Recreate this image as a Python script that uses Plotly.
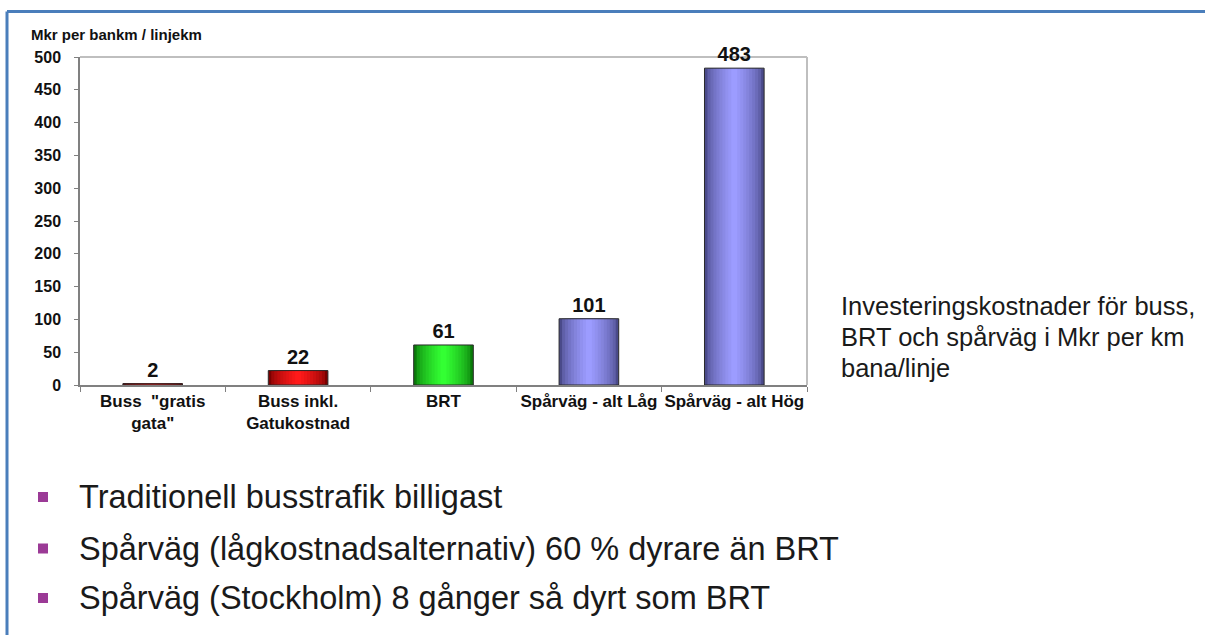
import plotly.graph_objects as go

# ---- data ----
categories = ['Buss  "gratis<br>gata"', 'Buss inkl.<br>Gatukostnad', 'BRT',
              'Spårväg - alt Låg', 'Spårväg - alt Hög']
values = [2, 22, 61, 101, 483]
edge_colors = ['#7a0000', '#7a0000', '#0a7a0a', '#4a4a8a', '#4a4a8a']
center_colors = ['#ff1a1a', '#ff1a1a', '#33ff33', '#9c9cff', '#9c9cff']
y_title = "Mkr per bankm / linjekm"
side_lines = ["Investeringskostnader för buss,", "BRT och spårväg i Mkr per km", "bana/linje"]
bullets = ["Traditionell busstrafik billigast",
           "Spårväg (lågkostnadsalternativ) 60 % dyrare än BRT",
           "Spårväg (Stockholm) 8 gånger så dyrt som BRT"]

W, H = 1205, 635
L, R, T, B = 80, 807, 57, 385
FONT = "Liberation Sans, Arial, sans-serif"


def px(x):
    return (x - L) / (R - L)


def py(y):
    return (B - y) / (B - T)


def hex2rgb(h):
    h = h.lstrip('#')
    return tuple(int(h[i:i + 2], 16) for i in (0, 2, 4))


def mix(c1, c2, t):
    a, b = hex2rgb(c1), hex2rgb(c2)
    return 'rgb(%d,%d,%d)' % tuple(round(a[k] + (b[k] - a[k]) * t) for k in range(3))


fig = go.Figure()
N = 10
w0 = 0.41
for i in range(N):
    t = (i / (N - 1)) ** 0.6
    fig.add_trace(go.Bar(
        x=categories, y=values,
        width=[w0 * (1 - i / N)] * len(values),
        marker=dict(color=[mix(e, c, t) for e, c in zip(edge_colors, center_colors)],
                    line=dict(width=0)),
        hoverinfo='skip', showlegend=False))

fig.add_trace(go.Bar(
    x=categories, y=values, width=[w0] * len(values),
    marker=dict(color='rgba(0,0,0,0)', line=dict(color='#2a2a2a', width=1)),
    text=[str(v) for v in values], textposition='outside',
    textfont=dict(family=FONT, size=20, color='#111111'),
    texttemplate='<b>%{text}</b>', cliponaxis=False, showlegend=False))

shapes = []
# plot-area border (top/right)
shapes.append(dict(type='line', xref='paper', yref='paper', x0=0, x1=1, y0=1, y1=1,
                   line=dict(color='#bfbfbf', width=2), layer='below'))
shapes.append(dict(type='line', xref='paper', yref='paper', x0=1, x1=1, y0=0, y1=1,
                   line=dict(color='#bfbfbf', width=2), layer='below'))
# blue frame
shapes.append(dict(type='line', xref='paper', yref='paper', x0=px(7), x1=px(W + 5),
                   y0=py(11.5), y1=py(11.5), line=dict(color='#4a7ebb', width=3)))
shapes.append(dict(type='line', xref='paper', yref='paper', x0=px(7), x1=px(7),
                   y0=py(11.5), y1=py(H + 5), line=dict(color='#4a7ebb', width=3)))
# bullet squares
bullet_y = [497, 548.5, 598]
for yy in bullet_y:
    shapes.append(dict(type='rect', xref='paper', yref='paper', x0=px(38), x1=px(48),
                       y0=py(yy - 5), y1=py(yy + 5), fillcolor='#9b3a96',
                       line=dict(width=0)))

annotations = []
annotations.append(dict(text='<b>' + y_title + '</b>', xref='paper', yref='paper',
                        x=px(29), y=py(34), xanchor='left', yanchor='middle',
                        showarrow=False, font=dict(family=FONT, size=15, color='#111111')))
for k, line in enumerate(side_lines):
    annotations.append(dict(text=line, xref='paper', yref='paper', x=px(839),
                            y=py(306 + 31 * k), xanchor='left', yanchor='middle',
                            showarrow=False, font=dict(family=FONT, size=25.5, color='#1a1a1a')))
for yy, txt in zip(bullet_y, bullets):
    annotations.append(dict(text=txt, xref='paper', yref='paper', x=px(77),
                            y=py(yy), xanchor='left', yanchor='middle',
                            showarrow=False, font=dict(family=FONT, size=32.5, color='#1a1a1a')))

fig.update_layout(
    width=W, height=H,
    margin=dict(l=L, r=W - R, t=T, b=H - B, pad=0),
    paper_bgcolor='white', plot_bgcolor='white',
    barmode='overlay',
    shapes=shapes, annotations=annotations,
    font=dict(family=FONT),
    xaxis=dict(type='category', range=[-0.5, 4.5], tickson='boundaries',
               ticks='outside', ticklen=5, tickcolor='#808080',
               showline=True, linecolor='#808080', linewidth=1.5,
               showgrid=False, zeroline=False,
               tickfont=dict(family=FONT, size=17, color='#111111', weight='bold'),
               tickangle=0),
    yaxis=dict(range=[0, 500], dtick=50, ticks='outside', ticklen=4,
               tickcolor='#808080', showline=True, linecolor='#808080', linewidth=1.5,
               showgrid=False, zeroline=False, ticklabelstandoff=10,
               tickfont=dict(family=FONT, size=16, color='#111111', weight='bold')),
)

fig.write_html("out.html", config={"displayModeBar": False},
               post_script="document.body.style.margin='0';")
